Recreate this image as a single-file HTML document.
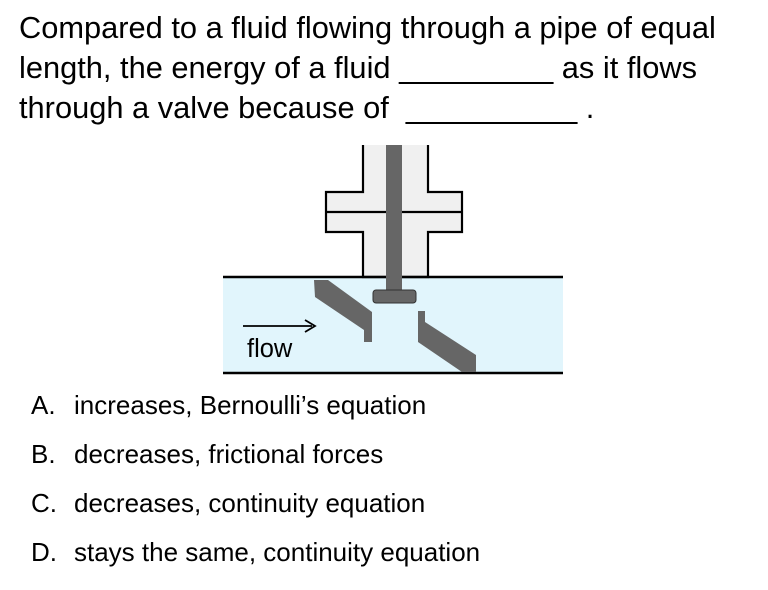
<!DOCTYPE html>
<html><head><style>
body{margin:0;width:768px;height:590px;background:#fff;font-family:"Liberation Sans",sans-serif;position:relative;overflow:hidden}
.q{position:absolute;left:19px;top:8px;font-size:30.8px;line-height:40px;color:#000;white-space:nowrap}
.o{position:absolute;left:31px;font-size:26px;color:#000;white-space:nowrap}
.o span{position:absolute;left:43px}
</style></head><body>
<div class="q">Compared to a fluid flowing through a pipe of equal<br>length, the energy of a fluid _________ as it flows<br>through a valve because of&nbsp; __________ .</div>
<svg width="768" height="590" style="position:absolute;left:0;top:0">
<rect x="223" y="277" width="340" height="96" fill="#e1f5fc"/>
<path d="M363,145 V192 H326 V232 H363 V277 H428 V232 H462 V192 H428 V145" fill="#f0f0f0" stroke="#000" stroke-width="2.2"/>
<line x1="326" y1="212" x2="462" y2="212" stroke="#000" stroke-width="2.2"/>
<line x1="223" y1="277" x2="563" y2="277" stroke="#000" stroke-width="2.5"/>
<line x1="223" y1="373" x2="563" y2="373" stroke="#000" stroke-width="2.5"/>
<rect x="386" y="145" width="16" height="148" fill="#666"/>
<rect x="373" y="290" width="43" height="13" rx="3" fill="#666" stroke="#333" stroke-width="1"/>
<polygon points="314,280 328,280 372,312 372,342 364,342 364,330 315,297" fill="#666"/>
<polygon points="418,311 425,311 425,322 476,355 476,372 462,372 418,342" fill="#666"/>
<line x1="243" y1="326" x2="312" y2="326" stroke="#000" stroke-width="1.8"/>
<path d="M305,320 L315,326 L305,332" fill="none" stroke="#000" stroke-width="1.8"/>
<text x="247" y="357" font-size="25.5" font-family="Liberation Sans, sans-serif">flow</text>
</svg>
<div class="o" style="top:390px">A.<span>increases, Bernoulli’s equation</span></div>
<div class="o" style="top:439px">B.<span>decreases, frictional forces</span></div>
<div class="o" style="top:488px">C.<span>decreases, continuity equation</span></div>
<div class="o" style="top:537px">D.<span>stays the same, continuity equation</span></div>
</body></html>
